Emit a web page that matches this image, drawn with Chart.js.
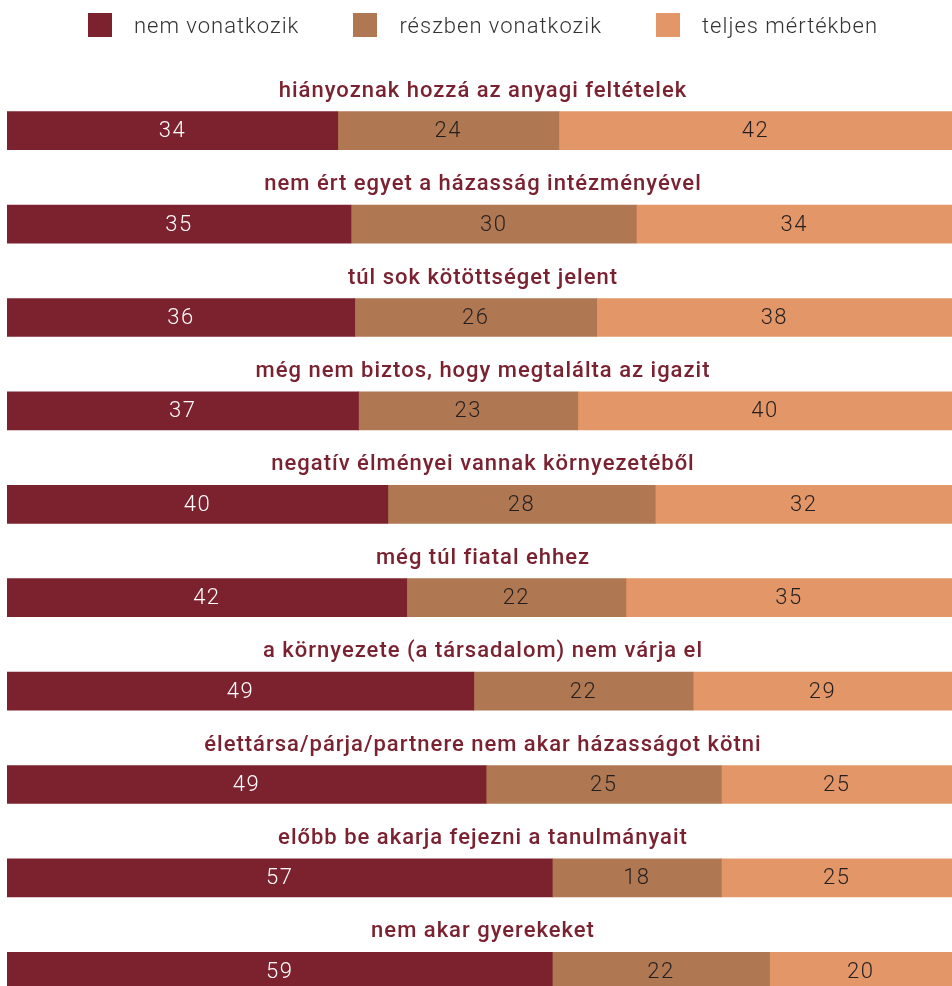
<!DOCTYPE html>
<html>
<head>
<meta charset="utf-8">
<script src="https://cdn.jsdelivr.net/npm/chart.js@4"></script>
<style>
  html, body { margin: 0; padding: 0; background: #fff; overflow: hidden; }
  .wrap { position: relative; width: 952px; height: 1018px; }
  .legend {
    position: absolute; top: 13px; left: 14px; right: 0;
    display: flex; justify-content: center; gap: 54px;
    font-family: Roboto, sans-serif; font-weight: 300; font-size: 22px;
    color: #333; letter-spacing: 1px;
  }
  .legend .item { display: flex; align-items: center; height: 24px; }
  .legend .box { width: 24px; height: 24px; margin-right: 22px; }
</style>
</head>
<body>
<div class="wrap">
  <div class="legend"></div>
  <canvas id="chart" width="952" height="1018"></canvas>
</div>
<script>
const categories = [
  'hiányoznak hozzá az anyagi feltételek',
  'nem ért egyet a házasság intézményével',
  'túl sok kötöttséget jelent',
  'még nem biztos, hogy megtalálta az igazit',
  'negatív élményei vannak környezetéből',
  'még túl fiatal ehhez',
  'a környezete (a társadalom) nem várja el',
  'élettársa/párja/partnere nem akar házasságot kötni',
  'előbb be akarja fejezni a tanulmányait',
  'nem akar gyerekeket'
];
const seriesNames = ['nem vonatkozik', 'részben vonatkozik', 'teljes mértékben'];
const seriesColors = ['#7c212e', '#b07852', '#e39768'];

// bar lengths as drawn (percent)
const nemVonatkozik = [35.0, 36.4, 36.8, 37.2, 40.3, 42.3, 49.4, 50.7, 57.7, 57.7];
const reszben = [23.4, 30.2, 25.6, 23.2, 28.3, 23.2, 23.2, 24.9, 17.9, 23.0];
const teljes = [41.6, 33.4, 37.6, 39.6, 31.4, 34.5, 27.4, 24.4, 24.4, 19.3];

// numbers printed on the bars
const nemLabels = [34, 35, 36, 37, 40, 42, 49, 49, 57, 59];
const reszbenLabels = [24, 30, 26, 23, 28, 22, 22, 25, 18, 22];
const teljesLabels = [42, 34, 38, 40, 32, 35, 29, 25, 25, 20];

const seriesData = [nemVonatkozik, reszben, teljes];
const seriesLabels = [nemLabels, reszbenLabels, teljesLabels];
const labelColors = ['#ffffff', '#231f20', '#231f20'];

// legend
let legend = document.querySelector('.legend');
seriesNames.forEach((name, i) => {
  let item = document.createElement('div');
  item.className = 'item';
  item.innerHTML = `<span class="box" style="background:${seriesColors[i]}"></span><span>${name}</span>`;
  legend.append(item);
});

const barTextPlugin = {
  id: 'barText',
  afterDatasetsDraw(chart) {
    let ctx = chart.ctx;
    let yScale = chart.scales.y;
    ctx.save();
    // category titles above each bar
    ctx.font = '500 22px Roboto';
    ctx.fillStyle = '#7b2231';
    ctx.textAlign = 'center';
    ctx.textBaseline = 'alphabetic';
    ctx.letterSpacing = '1px';
    categories.forEach((cat, i) => {
      let y = yScale.getPixelForValue(i);
      ctx.fillText(cat, 483, y - 19 - 15);
    });
    // values inside segments
    ctx.font = '300 22px Roboto';
    ctx.textBaseline = 'middle';
    ctx.letterSpacing = '1.5px';
    chart.data.datasets.forEach((ds, di) => {
      let meta = chart.getDatasetMeta(di);
      ctx.fillStyle = labelColors[di];
      meta.data.forEach((bar, i) => {
        let cx = (bar.x + bar.base) / 2;
        ctx.fillText(String(seriesLabels[di][i]), cx, bar.y + 1);
      });
    });
    ctx.restore();
  }
};

const config = {
  type: 'bar',
  data: {
    labels: categories,
    datasets: seriesNames.map((name, i) => ({
      label: name,
      data: seriesData[i],
      backgroundColor: seriesColors[i],
      borderWidth: 0,
      barThickness: 38,
    }))
  },
  options: {
    animation: false,
    responsive: false,
    indexAxis: 'y',
    layout: { padding: { top: 84, left: 7, right: 0, bottom: 0 } },
    plugins: {
      legend: { display: false },
      title: { display: false },
      tooltip: { enabled: false }
    },
    scales: {
      x: { display: false, stacked: true, min: 0, max: 100 },
      y: { display: false, stacked: true }
    }
  },
  plugins: [barTextPlugin]
};

new Chart(document.getElementById('chart'), config);
</script>
</body>
</html>
